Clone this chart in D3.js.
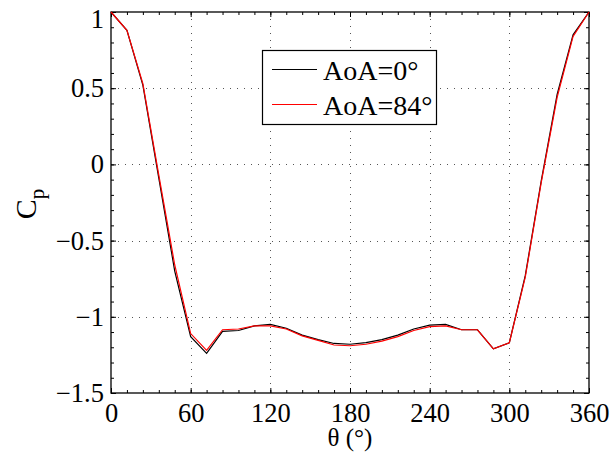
<!DOCTYPE html>
<html>
<head>
<meta charset="utf-8">
<script src="https://cdn.jsdelivr.net/npm/d3@7"></script>
<style>
    body { margin: 0; background: #fff; }
    text { font-family: "Times New Roman", "Liberation Serif", Times, serif; fill: #000; }
</style>
</head>
<body>
<svg id="chart" width="611" height="454"></svg>
<script>
// angle around the cylinder (deg)
const theta = [0, 12, 24, 36, 48, 60, 72, 84, 96, 108, 120, 132, 144, 156, 168, 180,
    192, 204, 216, 228, 240, 252, 264, 276, 288, 300, 312, 324, 336, 348, 360];

// Cp at AoA = 0
const cpAoA0 = [1.00, 0.88, 0.52, -0.09, -0.70, -1.13, -1.24, -1.095, -1.09, -1.06, -1.05,
    -1.075, -1.12, -1.15, -1.175, -1.18, -1.17, -1.15, -1.12, -1.08, -1.055, -1.05,
    -1.085, -1.085, -1.21, -1.17, -0.73, -0.11, 0.46, 0.85, 1.00];

// Cp at AoA = 84
const cpAoA84 = [1.00, 0.88, 0.53, -0.07, -0.66, -1.11, -1.22, -1.085, -1.08, -1.06, -1.06,
    -1.08, -1.125, -1.155, -1.185, -1.19, -1.18, -1.16, -1.13, -1.09, -1.065, -1.06,
    -1.085, -1.085, -1.21, -1.17, -0.74, -0.12, 0.44, 0.84, 1.00];

const xTicks = [0, 60, 120, 180, 240, 300, 360];
const yTicks = [1, 0.5, 0, -0.5, -1, -1.5];
const legendLabels = ["AoA=0°", "AoA=84°"];

const svg = d3.select("#chart");

// plot box in pixels
const boxL = 111, boxR = 589, boxT = 12, boxB = 393;

const x = d3.scaleLinear().domain([0, 360]).range([boxL, boxR]);
const y = d3.scaleLinear().domain([-1.5, 1]).range([boxB, boxT]);

// dotted grid at the major ticks
const grid = svg.append("g")
    .attr("stroke", "#555")
    .attr("stroke-width", 1)
    .attr("stroke-dasharray", "1,6");
grid.selectAll(".gx").data(xTicks.slice(1, -1)).enter().append("line")
    .attr("x1", d => Math.round(x(d)) + 0.5).attr("x2", d => Math.round(x(d)) + 0.5)
    .attr("y1", boxT).attr("y2", boxB);
grid.selectAll(".gy").data(yTicks.slice(1, -1)).enter().append("line")
    .attr("y1", d => Math.round(y(d)) + 0.5).attr("y2", d => Math.round(y(d)) + 0.5)
    .attr("x1", boxL).attr("x2", boxR);

// inward ticks on all four sides, major + minor
function addAxis(axis, tx, ty) {
    const g = svg.append("g").attr("transform", "translate(" + tx + "," + ty + ")").call(axis);
    g.select(".domain").remove();
    return g;
}
const xMinor = d3.range(0, 361, 12);
const yMinor = d3.range(-15, 11).map(d => d / 10);

addAxis(d3.axisBottom(x).tickValues(xMinor).tickSize(-3).tickFormat(""), 0, boxB);
addAxis(d3.axisTop(x).tickValues(xMinor).tickSize(-3).tickFormat(""), 0, boxT);
addAxis(d3.axisLeft(y).tickValues(yMinor).tickSize(-3).tickFormat(""), boxL, 0);
addAxis(d3.axisRight(y).tickValues(yMinor).tickSize(-3).tickFormat(""), boxR, 0);

addAxis(d3.axisBottom(x).tickValues(xTicks).tickSize(-5).tickPadding(10), 0, boxB);
addAxis(d3.axisTop(x).tickValues(xTicks).tickSize(-5).tickFormat(""), 0, boxT);
const yAxisG = addAxis(d3.axisLeft(y).tickValues(yTicks).tickSize(-5).tickPadding(7)
    .tickFormat(d => d3.format("")(d).replace("-", "\u2212")), boxL, 0);
addAxis(d3.axisRight(y).tickValues(yTicks).tickSize(-5).tickFormat(""), boxR, 0);

svg.selectAll(".tick line").attr("stroke", "#000");
svg.selectAll(".tick text").attr("font-size", 26.5);

// top label sits a bit lower so it stays inside the figure
yAxisG.selectAll(".tick text").filter(d => d === 1).attr("dy", "0.6em");

// box
svg.append("rect")
    .attr("x", boxL).attr("y", boxT)
    .attr("width", boxR - boxL).attr("height", boxB - boxT)
    .attr("fill", "none").attr("stroke", "#000").attr("stroke-width", 1.3);

// curves
const line = d3.line().x(d => x(d[0])).y(d => y(d[1]));
svg.append("path")
    .datum(theta.map((t, i) => [t, cpAoA0[i]]))
    .attr("d", line).attr("fill", "none").attr("stroke", "#000").attr("stroke-width", 1.2);
svg.append("path")
    .datum(theta.map((t, i) => [t, cpAoA84[i]]))
    .attr("d", line).attr("fill", "none").attr("stroke", "#ff0000").attr("stroke-width", 1.2);

// axis titles
svg.append("text")
    .attr("x", (boxL + boxR) / 2).attr("y", 446)
    .attr("text-anchor", "middle").attr("font-size", 25)
    .text("θ (°)");

const yl = svg.append("text")
    .attr("transform", "translate(36,204) rotate(-90)")
    .attr("text-anchor", "middle").attr("font-size", 30);
yl.append("tspan").text("C");
yl.append("tspan").attr("font-size", 21).attr("dy", 8).text("p");

// legend
const legend = svg.append("g");
legend.append("rect")
    .attr("x", 262.5).attr("y", 50.5).attr("width", 174).attr("height", 74)
    .attr("fill", "#fff").attr("stroke", "#000").attr("stroke-width", 1.2);
const legendColors = ["#000", "#ff0000"];
legendLabels.forEach((lab, i) => {
    const ly = 69.5 + i * 35;
    legend.append("line")
        .attr("x1", 272).attr("x2", 317).attr("y1", ly).attr("y2", ly)
        .attr("stroke", legendColors[i]).attr("stroke-width", 1.2);
    legend.append("text")
        .attr("x", 323).attr("y", ly + 10)
        .attr("font-size", 28)
        .text(lab);
});
</script>
</body>
</html>
